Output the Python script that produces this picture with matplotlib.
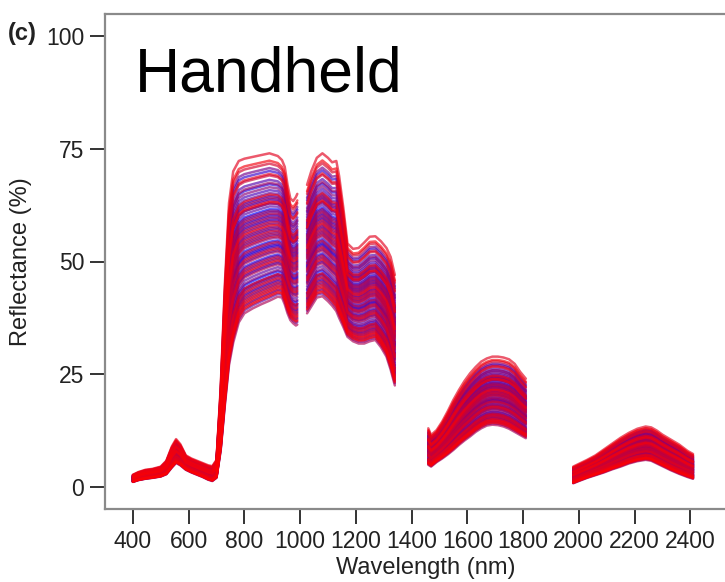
import numpy as np
import matplotlib
matplotlib.use("Agg")
import matplotlib.pyplot as plt
from matplotlib.colors import LinearSegmentedColormap

# Spectral segments (water absorption bands removed): wavelength (nm),
# upper and lower envelope of reflectance (%)
seg1_wl = [400, 420, 445, 470, 500, 520, 540, 555, 570, 590, 610, 630, 650, 670, 685,
           700, 715, 730, 745, 760, 780, 800, 830, 860, 890, 920, 935, 945, 955, 965,
           975, 985, 990]
seg1_hi = [2.7, 3.3, 3.8, 4.0, 4.5, 5.8, 9.0, 10.6, 9.5, 7.0, 6.3, 5.8, 5.3, 4.8, 4.6,
           6.0, 22.0, 45.0, 63.0, 70.0, 72.3, 72.8, 73.2, 73.6, 74.0, 73.4, 72.5, 71.0,
           67.0, 64.0, 63.4, 64.3, 65.0]
seg1_lo = [1.1, 1.5, 1.8, 2.0, 2.3, 2.8, 4.3, 5.3, 4.8, 3.8, 3.2, 2.7, 2.2, 1.6, 1.3,
           2.0, 8.0, 18.0, 27.0, 32.0, 36.5, 38.5, 39.6, 40.5, 41.3, 42.2, 42.0, 40.5,
           38.5, 37.0, 36.3, 35.8, 36.0]

seg2_wl = [1025, 1040, 1060, 1080, 1100, 1115, 1130, 1140, 1155, 1170, 1190, 1210, 1230,
           1250, 1270, 1290, 1310, 1325, 1340]
seg2_hi = [67.0, 70.0, 73.0, 74.0, 73.0, 72.0, 72.3, 69.0, 62.0, 54.0, 52.8, 53.0, 54.2,
           55.5, 55.6, 54.5, 53.0, 51.0, 47.0]
seg2_lo = [38.5, 40.0, 42.0, 42.3, 41.2, 40.2, 39.0, 37.5, 35.5, 33.3, 32.3, 31.8, 31.8,
           32.3, 32.6, 31.0, 28.9, 26.0, 22.5]

seg3_wl = [1460, 1470, 1490, 1510, 1530, 1550, 1570, 1590, 1610, 1630, 1650, 1670, 1690,
           1710, 1730, 1750, 1770, 1790, 1810]
seg3_hi = [13.0, 11.5, 12.6, 14.5, 16.8, 19.3, 21.5, 23.5, 25.2, 26.6, 27.8, 28.5, 28.9,
           28.9, 28.7, 28.3, 27.3, 25.5, 24.0]
seg3_lo = [4.9, 4.5, 5.5, 6.3, 7.2, 8.2, 9.3, 10.3, 11.2, 12.2, 13.0, 13.6, 13.8, 13.7,
           13.4, 12.9, 12.2, 11.5, 10.8]

seg4_wl = [1980, 2000, 2030, 2060, 2090, 2120, 2150, 2180, 2210, 2240, 2260, 2280, 2300,
           2330, 2360, 2390, 2410]
seg4_hi = [4.5, 5.1, 6.0, 7.0, 8.3, 9.6, 10.9, 12.0, 12.9, 13.4, 13.2, 12.5, 11.6, 10.5,
           9.4, 8.0, 7.3]
seg4_lo = [0.8, 1.3, 2.0, 2.6, 3.2, 3.9, 4.5, 5.2, 5.7, 6.0, 5.8, 5.2, 4.6, 3.7, 2.9,
           2.2, 1.8]

# Relative position of each sample between the lower and upper envelope
sample_level = [0.62, 0.18, 0.16, 0.40, 0.71, 0.05, 0.55, 0.37, 0.30, 0.66, 0.12, 0.48,
                0.79, 0.24, 0.58, 0.36, 0.88, 0.09, 0.52, 0.69, 0.27, 0.44, 0.75, 0.15,
                0.60, 0.33, 0.82, 0.02, 0.50, 0.64, 0.21, 0.46, 0.73, 0.38, 0.57, 0.11,
                0.90, 0.29, 0.54, 0.68, 0.19, 0.42, 0.77, 0.07, 0.35, 0.61, 0.25, 0.49,
                0.80, 0.14, 0.56, 0.32, 0.70, 0.00, 0.45, 0.23, 0.66, 0.39, 0.59, 0.10,
                0.28, 0.53, 0.85, 0.43, 0.04, 0.34, 0.93, 0.47, 0.13, 0.86, 1.00, 0.08,
                0.26, 0.72, 0.16, 0.95, 0.03, 0.67, 0.51, 0.06]

segments = [(seg1_wl, seg1_hi, seg1_lo), (seg2_wl, seg2_hi, seg2_lo),
            (seg3_wl, seg3_hi, seg3_lo), (seg4_wl, seg4_hi, seg4_lo)]

plt.rcParams['font.family'] = ['Liberation Sans', 'DejaVu Sans']

fig = plt.figure(figsize=(7.25, 5.82), dpi=100)
ax = fig.add_axes([105 / 725, 73 / 582, 641 / 725, 495 / 582])

cmap = LinearSegmentedColormap.from_list('blue_red', ['#0000ff', '#ff0000'])
n = len(sample_level)
shade = np.linspace(0, 1, n)

for i, f in enumerate(sample_level):
    c = cmap(shade[i])
    for wl, hi, lo in segments:
        hi = np.asarray(hi)
        lo = np.asarray(lo)
        ax.plot(wl, lo + f * (hi - lo), color=c, lw=1.8, alpha=0.65,
                solid_capstyle='round')

ax.set_xlim(300, 2600)
ax.set_ylim(-4.9, 104.9)
ax.set_xticks(np.arange(400, 2401, 200))
ax.set_yticks([0, 25, 50, 75, 100])

for side in ['top', 'left', 'bottom', 'right']:
    ax.spines[side].set_color('#8a8a8a')
    ax.spines[side].set_linewidth(1.6)
ax.tick_params(direction='out', length=11, width=1.4, color='#333333',
               labelsize=16.5, labelcolor='#222222', pad=4)

ax.set_xlabel('Wavelength (nm)', fontsize=17, color='#222222', labelpad=3)
ax.set_ylabel('Reflectance (%)', fontsize=17, color='#222222', labelpad=10)

fig.text(8 / 725, 1 - 40 / 582, '(c)', fontsize=17, fontweight='bold', color='#222222')
fig.text(135 / 725, 1 - 92 / 582, 'Handheld', fontsize=45, color='black')

fig.savefig('out.png', dpi=100)
